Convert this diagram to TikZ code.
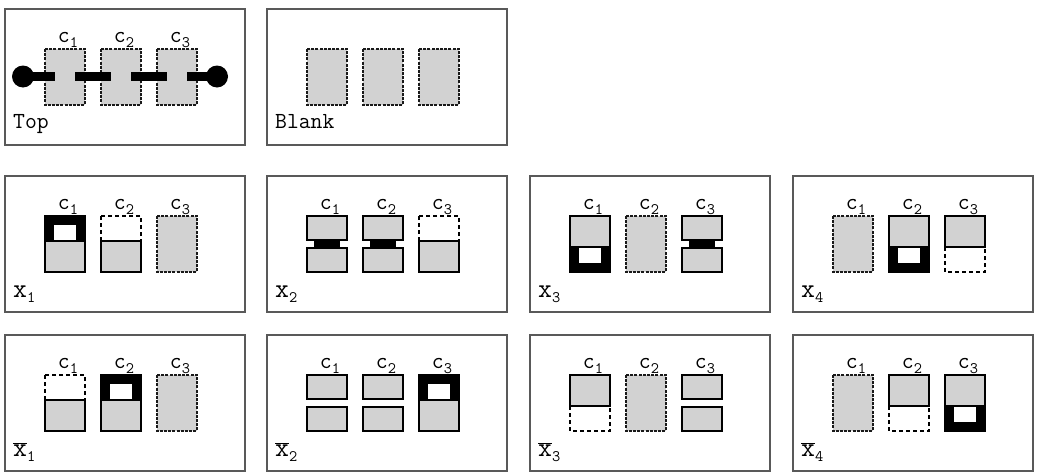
\documentclass[tikz,border=0pt]{standalone}
\usepackage{fontspec}
\usetikzlibrary{calc}
\newcommand{\sub}[1]{\raisebox{-5pt}{\fontsize{16}{17}\selectfont#1}}
\newcommand{\xl}[1]{{\fontsize{27}{29}\selectfont x}\sub{#1}}
\newcommand{\xb}[1]{$\overline{\hbox{\fontsize{27}{29}\selectfont x}}$\sub{#1}}
\tikzset{
panel/.style={draw=black!65,line width=1.3pt},
fullbox/.style={fill=gray!35,draw=black!90,line width=1.6pt,dash pattern=on 3pt off 1.2pt},
halfbox/.style={fill=gray!35,draw=black,line width=1.2pt},
gapbox/.style={fill=white,draw=black,line width=1.2pt,dash pattern=on 4pt off 3pt},
cupbox/.style={fill=black,draw=black,line width=1.2pt},
hole/.style={fill=white},
bridge/.style={fill=black},
wire/.style={fill=black},
clabel/.style={font=\ttfamily\fontsize{23}{25}\selectfont,anchor=base,inner sep=0pt},
plabel/.style={font=\ttfamily\fontsize{23}{25}\selectfont,anchor=base west,inner sep=0pt}
}
% cells, #1 = left edge of the column
\newcommand{\fullcell}[1]{\draw[fullbox] (#1,40) rectangle ++(40,56);}
\newcommand{\cuptop}[1]{%
\filldraw[cupbox] (#1,40) rectangle (#1+40,65);
\fill[hole] (#1+9,49) rectangle (#1+31,65);
\draw[halfbox] (#1,65) rectangle (#1+40,96);}
\newcommand{\cupbot}[1]{%
\draw[halfbox] (#1,40) rectangle (#1+40,71);
\filldraw[cupbox] (#1,71) rectangle (#1+40,96);
\fill[hole] (#1+9,71.6) rectangle (#1+31,87);
\draw[halfbox,fill=none] (#1,40) rectangle (#1+40,71);}
\newcommand{\dashtop}[1]{%
\draw[gapbox] (#1,40) rectangle (#1+40,65);
\draw[halfbox] (#1,65) rectangle (#1+40,96);}
\newcommand{\dashbot}[1]{%
\draw[gapbox] (#1,71) rectangle (#1+40,96);
\draw[halfbox] (#1,40) rectangle (#1+40,71);}
\newcommand{\splitcell}[1]{%
\draw[halfbox] (#1,40) rectangle (#1+40,64);
\draw[halfbox] (#1,72) rectangle (#1+40,96);}
\newcommand{\bridgecell}[1]{%
\fill[bridge] (#1+7,63) rectangle (#1+33,73);
\splitcell{#1}}
% frame, label and column names of one panel
\newcommand{\panelframe}[3]{%
\draw[panel] (0,0) rectangle (240,136);
\node[plabel] (#1-lab) at (8,#3) {#2};}
\newcommand{\clabels}[1]{%
\foreach \i/\cx in {1/40,2/96,3/152}
{\node[clabel] (#1-c\i) at (\cx+23,33) {c\sub{\i}};}}

\begin{document}
\begin{tikzpicture}[x=1pt,y=-1pt]
\useasboundingbox (0,0) rectangle (1041,474);
% first row
\begin{scope}[shift={(5,9)}]
\panelframe{top}{Top}{119}
\foreach \cx in {40,96,152} {\fullcell{\cx}}
\fill[wire] (18,63) rectangle (50,72);
\fill[wire] (70,63) rectangle (106,72);
\fill[wire] (126,63) rectangle (162,72);
\fill[wire] (182,63) rectangle (212,72);
\fill[wire] (18,67.5) circle (11);
\fill[wire] (212,67.5) circle (11);
\clabels{top}
\end{scope}
\begin{scope}[shift={(267,9)}]
\panelframe{blank}{Blank}{119}
\foreach \cx in {40,96,152} {\fullcell{\cx}}
\end{scope}
% second row
\begin{scope}[shift={(5,176)}]
\panelframe{xa}{\xl{1}}{121}
\cuptop{40}\dashtop{96}\fullcell{152}
\clabels{xa}
\end{scope}
\begin{scope}[shift={(267,176)}]
\panelframe{xb}{\xl{2}}{121}
\bridgecell{40}\bridgecell{96}\dashtop{152}
\clabels{xb}
\end{scope}
\begin{scope}[shift={(530,176)}]
\panelframe{xc}{\xl{3}}{121}
\cupbot{40}\fullcell{96}\bridgecell{152}
\clabels{xc}
\end{scope}
\begin{scope}[shift={(793,176)}]
\panelframe{xd}{\xl{4}}{121}
\fullcell{40}\cupbot{96}\dashbot{152}
\clabels{xd}
\end{scope}
% third row
\begin{scope}[shift={(5,335)}]
\panelframe{na}{\xb{1}}{121}
\dashtop{40}\cuptop{96}\fullcell{152}
\clabels{na}
\end{scope}
\begin{scope}[shift={(267,335)}]
\panelframe{nb}{\xb{2}}{121}
\splitcell{40}\splitcell{96}\cuptop{152}
\clabels{nb}
\end{scope}
\begin{scope}[shift={(530,335)}]
\panelframe{nc}{\xb{3}}{121}
\dashbot{40}\fullcell{96}\splitcell{152}
\clabels{nc}
\end{scope}
\begin{scope}[shift={(793,335)}]
\panelframe{nd}{\xb{4}}{121}
\fullcell{40}\dashbot{96}\cupbot{152}
\clabels{nd}
\end{scope}
\end{tikzpicture}
\end{document}
